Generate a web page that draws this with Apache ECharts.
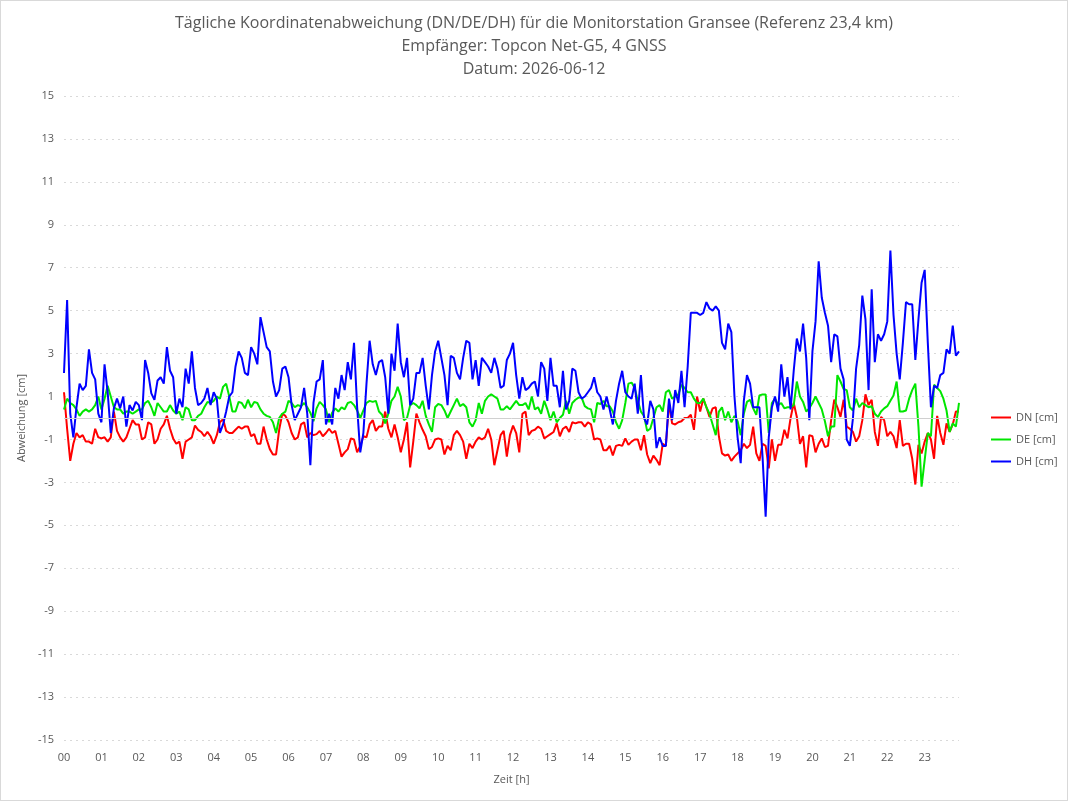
<!DOCTYPE html>
<html>
<head>
<meta charset="utf-8">
<script src="https://cdn.jsdelivr.net/npm/echarts@6/dist/echarts.min.js"></script>
<style>
  html, body { margin: 0; padding: 0; background: #fff; }
  #chart { width: 1068px; height: 801px; box-sizing: border-box; border: 1px solid #d9d9d9; }
</style>
</head>
<body>
<div id="chart"></div>
<script>
// hour tick labels
var hourLabels = ["00","01","02","03","04","05","06","07","08","09","10","11",
                  "12","13","14","15","16","17","18","19","20","21","22","23"];
var minuteSteps = ["00","05","10","15","20","25","30","35","40","45","50","55"];

// DN [cm], 5-min values
var dn = [
  1.2, -0.5, -2.0, -1.2, -0.7, -0.9, -0.8, -1.1, -1.1, -1.2, -0.5, -0.9, -0.95, -0.9, -1.1, -0.9, 0.3, -0.6, -0.9, -1.1, -0.9, -0.5, -0.1, -0.3, -0.3, -1.0, -0.9, -0.2, -0.3, -1.2, -1.0, -0.5, -0.3, 0.1, -0.5,
  -0.95, -1.2, -1.1, -1.9, -1.1, -1.0, -0.9, -0.35, -0.55, -0.65, -0.85, -0.65, -0.85, -1.2, -0.8, -0.2, -0.05, -0.6, -0.7, -0.7, -0.55, -0.4, -0.5, -0.4, -0.4, -0.85, -0.75, -1.2, -1.2, -0.4, -1.0, -1.45, -1.7, -1.7, -0.55, 0.2,
  0.1, -0.2, -0.7, -1.0, -0.9, -0.3, -0.2, -0.9, -0.7, -0.8, -0.75, -0.6, -0.85, -0.7, -0.5, -0.7, -0.6, -1.2, -1.8, -1.6, -1.45, -0.95, -1.0, -1.6, -1.3, -0.85, -0.9, -0.3, -0.1, -0.6, -0.4, -0.4, 0.3, -0.5, -0.9, -0.3,
  -0.9, -1.6, -1.0, -0.2, -2.3, -1.1, 0.2, -0.2, -0.55, -0.85, -1.45, -1.35, -1.0, -0.95, -1.0, -1.7, -1.3, -1.5, -0.8, -0.6, -0.8, -1.1, -1.9, -1.2, -1.4, -1.1, -0.9, -1.0, -0.9, -0.5, -1.0, -2.2, -1.5, -0.8, -0.6, -1.8, -0.8,
  -0.35, -0.7, -1.6, 0.2, 0.3, -0.8, -0.6, -0.55, -0.4, -0.5, -0.95, -0.85, -0.75, -0.65, -0.25, -0.85, -0.5, -0.4, -0.65, -0.2, -0.25, -0.2, -0.2, -0.4, -0.2, -0.3, -1.0, -0.95, -1.0, -1.5, -1.5, -1.3, -1.75, -1.3, -1.25, -1.3,
  -0.95, -1.25, -1.1, -1.0, -1.0, -1.5, -0.8, -1.7, -2.1, -1.75, -1.95, -2.2, -1.2, -1.3, 0.7, -0.25, -0.3, -0.2, -0.15, 0.0, 0.0, 0.15, -0.55, 1.0, 0.3, 0.9, 0.5, 0.05, 0.45, 0.5, -0.85, -1.65, -1.75, -1.7, -2.0, -1.8,
  -1.65, -1.5, -1.2, -1.4, -1.25, -0.4, -1.65, -2.0, -1.2, -1.3, -2.35, -1.0, -2.0, -1.25, -1.25, -0.55, -0.95, 0.0, 0.7, 0.05, -1.2, -0.85, -2.3, -0.8, -0.85, -1.6, -1.2, -0.95, -1.35, -1.3, -0.1, 0.85, 0.5, 0.05, 0.85, -0.4,
  -0.5, -0.65, -1.1, -0.85, -0.1, 1.1, 0.6, 0.85, -0.65, -1.3, 0.05, -0.1, -0.85, -0.65, -0.85, -1.4, -0.1, -1.3, -1.2, -1.2, -1.9, -3.1, -1.25, -1.65, -1.1, -0.7, -1.0, -1.9, 0.1, -0.7, -1.25, -0.25, -0.65, -0.3, 0.3, 0.3
];

// DE [cm]
var de = [
  0.4, 0.9, 0.7, 0.6, 0.4, 0.1, 0.3, 0.4, 0.3, 0.4, 0.6, 1.0, 0.4, 0.9, 1.5, 1.0, 0.5, 0.4, 0.4, 0.2, 0.3, 0.3, 0.2, 0.3, 0.4, 0.4, 0.7, 0.8, 0.5, 0.1, 0.7, 0.5, 0.3, 0.3, 0.6,
  0.35, 0.2, 0.3, -0.1, 0.5, 0.4, -0.1, -0.1, 0.1, 0.2, 0.5, 0.75, 0.7, 0.8, 1.0, 0.9, 1.45, 1.6, 1.0, 0.3, 0.3, 0.75, 0.7, 0.45, 0.85, 0.5, 0.75, 0.7, 0.4, 0.2, 0.1, 0.05, -0.2, -0.7, 0.0, 0.2,
  0.3, 0.8, 0.7, 0.5, 0.6, 0.55, 0.7, 0.5, 0.25, -0.15, 0.45, 0.75, 0.6, 0.4, -0.2, 0.25, 0.45, 0.3, 0.5, 0.4, 0.7, 0.75, 0.6, 0.35, 0.0, 0.35, 0.7, 0.8, 0.75, 0.8, 0.3, 0.15, -0.25, 0.2, 0.8, 1.0,
  1.45, 1.0, -0.1, 0.0, 0.6, 0.7, 0.6, 0.45, 0.8, 0.1, -0.3, -0.65, 0.5, 0.65, 0.6, 0.35, 0.0, 0.3, 0.6, 0.9, 0.55, 0.65, 0.5, -0.2, -0.4, -0.1, 0.7, 0.2, 0.8, 1.0, 1.1, 1.0, 0.9, 0.4, 0.4, 0.55, 0.4,
  0.6, 0.8, 0.6, 0.6, 0.7, 0.4, 1.0, 0.4, 0.5, 0.2, 0.8, 0.4, -0.1, 0.3, -0.2, 0.0, 0.15, 0.8, 0.2, 0.7, 0.85, 0.95, 0.95, 0.55, 0.45, 0.4, -0.2, 0.7, 0.65, 0.8, 0.55, 0.55, 0.3, -0.2, -0.5, -0.1,
  0.7, 1.6, 1.65, 1.4, 0.8, 0.3, 0.1, -0.6, -0.5, 0.0, 0.5, 0.6, 0.3, 1.2, 1.3, 0.9, 1.0, 1.1, 1.55, 1.4, 1.2, 1.2, 0.9, 0.7, 0.7, 0.9, 0.5, 0.2, -0.3, -0.8, 0.3, 0.5, -0.1, 0.3, -0.2, 0.1,
  -0.15, -0.8, 0.2, 0.75, 0.85, 0.45, 0.15, 1.05, 1.1, 1.1, -0.7, 0.7, 0.9, 0.6, 0.7, 0.45, 0.5, 0.5, 0.6, 1.7, 1.0, 0.75, 0.3, 0.45, 0.7, 1.0, 0.7, 0.4, -0.15, -0.85, -0.4, -0.4, 2.0, 1.7, 1.35, 1.3,
  0.5, 0.35, 0.9, 0.5, 0.7, 0.6, 0.5, 0.55, 0.2, 0.05, 0.3, 0.45, 0.55, 0.8, 1.05, 1.7, 0.3, 0.3, 0.35, 0.9, 1.3, 1.6, -0.4, -3.2, -1.95, -0.7, -0.85, 1.55, 1.4, 1.25, 0.9, 0.35, -0.65, -0.25, -0.4, 0.7
];

// DH [cm]
var dh = [
  2.1, 5.5, 0.2, -0.9, 0.5, 1.6, 1.3, 1.5, 3.2, 2.1, 1.8, 0.2, -0.2, 2.5, 1.2, -0.7, 0.45, 0.9, 0.45, 1.0, -0.4, 0.6, 0.35, 0.75, 0.6, -0.1, 2.7, 2.1, 1.15, 0.85, 1.75, 1.9, 1.6, 3.3, 2.2,
  1.9, 0.2, 0.9, 0.5, 2.3, 1.6, 3.1, 1.4, 0.6, 0.7, 0.9, 1.4, 0.6, 1.2, 0.9, -0.7, -0.3, 0.3, 1.0, 1.2, 2.4, 3.1, 2.8, 2.1, 2.0, 3.3, 3.0, 2.5, 4.7, 4.0, 3.3, 3.1, 1.7, 1.0, 1.3, 2.3,
  2.4, 1.9, 0.6, -0.1, 0.2, 0.5, 1.4, 0.2, -2.2, 0.7, 1.7, 1.8, 2.7, -0.3, 0.2, -0.3, 1.4, 0.9, 2.0, 1.3, 2.6, 1.8, 3.5, 0.5, -1.6, -0.7, 1.6, 3.6, 2.5, 2.0, 2.6, 2.7, 1.9, 0.2, 3.0, 2.2,
  4.4, 2.6, 1.9, 2.8, 0.6, 0.9, 2.1, 2.1, 2.8, 1.5, 0.4, 2.0, 3.1, 3.6, 2.8, 2.0, 0.6, 2.9, 2.8, 2.1, 1.8, 2.8, 3.6, 3.5, 1.8, 2.7, 1.5, 2.8, 2.6, 2.4, 2.1, 2.8, 2.3, 1.4, 1.5, 2.7, 3.0,
  3.5, 2.0, 0.9, 1.9, 1.3, 1.4, 1.6, 1.7, 1.0, 2.6, 2.3, 0.8, 2.8, 1.5, 1.5, 0.5, 2.2, 0.4, 0.8, 2.3, 2.2, 1.2, 0.9, 1.0, 1.2, 1.4, 1.9, 1.2, 1.0, 0.4, 1.0, 0.4, -0.3, 0.8, 1.6, 2.2,
  1.2, 1.0, 0.9, 1.6, 0.2, 2.0, 0.0, -0.3, 0.8, 0.4, -1.4, -0.9, -1.3, -1.3, 0.9, -0.1, 1.3, 0.7, 2.2, 0.5, 2.4, 4.9, 4.9, 4.9, 4.8, 4.9, 5.4, 5.1, 5.0, 5.2, 5.0, 3.5, 3.2, 4.4, 4.0, 1.0,
  -0.9, -2.1, 0.8, 2.0, 1.6, 0.5, 0.5, 0.5, -1.8, -4.6, -0.9, 0.5, 1.0, 0.3, 2.5, 1.0, 1.9, 0.4, 2.2, 3.7, 3.1, 4.4, 2.8, -0.1, 3.1, 4.5, 7.3, 5.6, 4.9, 4.3, 2.6, 3.9, 3.8, 2.3, 1.8, -1.0,
  -1.3, 0.0, 2.3, 3.4, 5.7, 4.6, 1.3, 6.0, 2.6, 3.9, 3.6, 3.9, 4.5, 7.8, 4.8, 3.0, 1.8, 3.5, 5.4, 5.3, 5.3, 2.7, 4.6, 6.3, 6.9, 3.5, 0.5, 1.5, 1.4, 2.0, 2.1, 3.2, 3.0, 4.3, 2.9, 3.1
];

var times = [];
hourLabels.forEach(function (h) {
  minuteSteps.forEach(function (m) { times.push(h + ":" + m); });
});
// empty series that only carries the zero line
var zeroSeries = times.map(function () { return null; });

var textColor = "#595959";
var myChart = echarts.init(document.getElementById("chart"));

myChart.setOption({
  animation: false,
  textStyle: { fontFamily: "Open Sans" },
  title: {
    text: "Tägliche Koordinatenabweichung (DN/DE/DH) für die Monitorstation Gransee (Referenz 23,4 km)\nEmpfänger: Topcon Net-G5, 4 GNSS\nDatum: 2026-06-12",
    left: "center",
    top: 6,
    textStyle: {
      fontSize: 16,
      fontWeight: "normal",
      color: textColor,
      lineHeight: 23
    }
  },
  legend: {
    orient: "vertical",
    left: 985,
    top: 406,
    icon: "rect",
    itemWidth: 20,
    itemHeight: 2,
    itemGap: 11,
    data: ["DN [cm]", "DE [cm]", "DH [cm]"],
    textStyle: { fontSize: 11, color: textColor }
  },
  grid: {
    left: 63,
    right: 108,
    top: 95,
    bottom: 60
  },
  xAxis: {
    type: "category",
    data: times,
    boundaryGap: false,
    name: "Zeit [h]",
    nameLocation: "middle",
    nameGap: 34,
    nameTextStyle: { fontSize: 11, color: textColor },
    axisLine: { show: false },
    axisTick: { show: false },
    axisLabel: {
      interval: 11,
      color: textColor,
      fontSize: 11,
      margin: 12,
      formatter: function (v) { return v.slice(0, 2); }
    },
    splitLine: { show: false }
  },
  yAxis: {
    type: "value",
    min: -15,
    max: 15,
    interval: 2,
    name: "Abweichung [cm]",
    nameLocation: "middle",
    nameGap: 32,
    nameTextStyle: { fontSize: 11, color: textColor },
    axisLine: { show: false },
    axisTick: { show: false },
    axisLabel: { color: textColor, fontSize: 11, margin: 10 },
    splitLine: {
      lineStyle: { color: "#d9d9d9", type: [2, 4] }
    }
  },
  series: [
    {
      name: "zero",
      type: "line",
      data: zeroSeries,
      symbol: "none",
      z: 1,
      markLine: {
        silent: true,
        symbol: "none",
        label: { show: false },
        lineStyle: { color: "#d0d0d0", type: "solid", width: 1 },
        data: [{ yAxis: 0 }]
      }
    },
    {
      name: "DN [cm]",
      type: "line",
      data: dn,
      symbol: "none",
      z: 2,
      itemStyle: { color: "#ff0000" },
      lineStyle: { color: "#ff0000", width: 2 }
    },
    {
      name: "DE [cm]",
      type: "line",
      data: de,
      symbol: "none",
      z: 2,
      itemStyle: { color: "#00e600" },
      lineStyle: { color: "#00e600", width: 2 }
    },
    {
      name: "DH [cm]",
      type: "line",
      data: dh,
      symbol: "none",
      z: 3,
      itemStyle: { color: "#0000ff" },
      lineStyle: { color: "#0000ff", width: 2 }
    }
  ]
});

window.onresize = function () {
  myChart.resize();
};
</script>
</body>
</html>
